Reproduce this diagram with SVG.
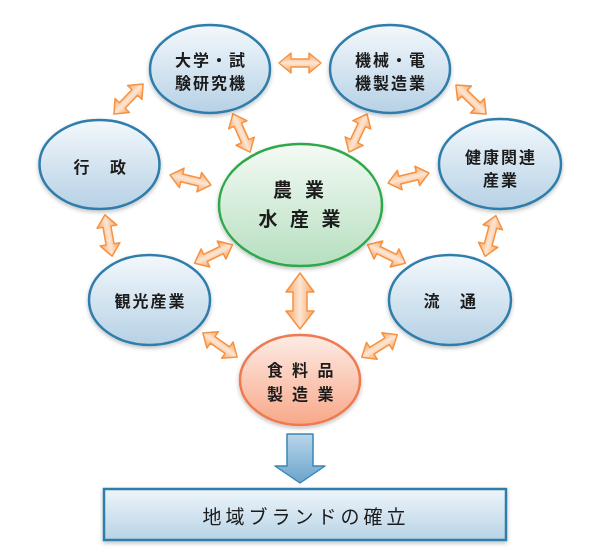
<svg xmlns="http://www.w3.org/2000/svg" xmlns:xlink="http://www.w3.org/1999/xlink" width="600" height="560" viewBox="0 0 600 560">
<defs>
<linearGradient id="gBlue" x1="0" y1="0" x2="0" y2="1">
<stop offset="0" stop-color="#f3f8fc"/>
<stop offset="1" stop-color="#b6d1e5"/>
</linearGradient>
<linearGradient id="gGreen" x1="0" y1="0" x2="0" y2="1">
<stop offset="0" stop-color="#f4faf4"/>
<stop offset="1" stop-color="#b6dfc0"/>
</linearGradient>
<linearGradient id="gRed" x1="0" y1="0" x2="0" y2="1">
<stop offset="0" stop-color="#fdece6"/>
<stop offset="1" stop-color="#f8a888"/>
</linearGradient>
<linearGradient id="gOrange" x1="0" y1="0" x2="0" y2="1">
<stop offset="0" stop-color="#f8a464"/>
<stop offset="0.5" stop-color="#fde6d4"/>
<stop offset="1" stop-color="#f8a464"/>
</linearGradient>
<linearGradient id="gOrangeV" x1="0" y1="0" x2="1" y2="0">
<stop offset="0" stop-color="#f8a464"/>
<stop offset="0.5" stop-color="#fde6d4"/>
<stop offset="1" stop-color="#f8a464"/>
</linearGradient>
<linearGradient id="gDown" x1="0" y1="0" x2="0" y2="1">
<stop offset="0" stop-color="#b9d6ea"/>
<stop offset="1" stop-color="#6aa4cc"/>
</linearGradient>
<linearGradient id="gBox" x1="0" y1="0" x2="0" y2="1">
<stop offset="0" stop-color="#eef5fa"/>
<stop offset="1" stop-color="#b8d3e6"/>
</linearGradient>
<filter id="sh" x="-20%" y="-20%" width="140%" height="150%">
<feGaussianBlur in="SourceAlpha" stdDeviation="2"/>
<feOffset dx="0" dy="2" result="b"/>
<feComponentTransfer><feFuncA type="linear" slope="0.25"/></feComponentTransfer>
<feMerge><feMergeNode/><feMergeNode in="SourceGraphic"/></feMerge>
</filter>
<path id="dbl" d="M-21,0 L-9,-10 L-9,-4 L9,-4 L9,-10 L21,0 L9,10 L9,4 L-9,4 L-9,10 Z"/>
</defs>
<style>
.blue{fill:url(#gBlue);stroke:#2f7dab;stroke-width:2.5}
.green{fill:url(#gGreen);stroke:#2ea84b;stroke-width:2.5}
.red{fill:url(#gRed);stroke:#f07a50;stroke-width:2.5}
.arr{fill:url(#gOrange);stroke:#f69240;stroke-width:1.5;stroke-linejoin:round}
.t{font-family:"Noto Sans CJK JP","Noto Sans CJK SC",sans-serif;font-weight:bold;font-size:16px;fill:#1a1a1a;dominant-baseline:central}
.m{text-anchor:middle;letter-spacing:2px}
.big{font-size:19px}
</style>

<g id="connectors">
<use xlink:href="#dbl" class="arr" transform="translate(300,63)"/>
<use xlink:href="#dbl" class="arr" transform="translate(241.5,133) rotate(65.9)"/>
<use xlink:href="#dbl" class="arr" transform="translate(358,133) rotate(115.3)"/>
<use xlink:href="#dbl" class="arr" transform="translate(128.5,99) rotate(-46)"/>
<use xlink:href="#dbl" class="arr" transform="translate(190.5,180) rotate(13.7)"/>
<use xlink:href="#dbl" class="arr" transform="translate(108.5,235.5) rotate(80)"/>
<use xlink:href="#dbl" class="arr" transform="translate(471,99.5) rotate(44)"/>
<use xlink:href="#dbl" class="arr" transform="translate(408.5,178) rotate(-13.7)"/>
<use xlink:href="#dbl" class="arr" transform="translate(490.5,236) rotate(105)"/>
<use xlink:href="#dbl" class="arr" transform="translate(213.5,254) rotate(-25.9)"/>
<use xlink:href="#dbl" class="arr" transform="translate(386.5,254) rotate(25.9)"/>
<use xlink:href="#dbl" class="arr" transform="translate(220,345) rotate(35.2)"/>
<use xlink:href="#dbl" class="arr" transform="translate(379.5,346) rotate(-32.2)"/>
<path d="M300,273 L314,292 L307,292 L307,311 L314,311 L300,329 L286,311 L293,311 L293,292 L286,292 Z" fill="url(#gOrangeV)" stroke="#f69240" stroke-width="1.5" stroke-linejoin="round"/>
<path d="M287,434 L313,434 L313,466 L325,466 L300,483 L275,466 L287,466 Z" fill="url(#gDown)" stroke="#3a86b4" stroke-width="1.5" stroke-linejoin="round"/>
</g>

<g id="univ" filter="url(#sh)">
<ellipse class="blue" cx="210" cy="69" rx="60" ry="44"/>
<text class="t m" x="211" y="59">大学・試</text>
<text class="t m" x="211" y="82">験研究機</text>
</g>
<g id="machine" filter="url(#sh)">
<ellipse class="blue" cx="390" cy="69" rx="60" ry="44"/>
<text class="t m" x="391" y="59">機械・電</text>
<text class="t m" x="391" y="82">機製造業</text>
</g>
<g id="gyosei" filter="url(#sh)">
<ellipse class="blue" cx="99.5" cy="164.5" rx="60" ry="44.5"/>
<text class="t" x="73.5 92 110" y="166">行 政</text>
</g>
<g id="health" filter="url(#sh)">
<ellipse class="blue" cx="500" cy="164" rx="61" ry="45"/>
<text class="t m" x="501" y="156">健康関連</text>
<text class="t m" x="501" y="179">産業</text>
</g>
<g id="center" filter="url(#sh)">
<ellipse class="green" cx="300.5" cy="205" rx="81.5" ry="61"/>
<text class="t big" x="273 296 305" y="188">農 業</text>
<text class="t big" x="258.5 280 290 312 321.5" y="217">水 産 業</text>
</g>
<g id="kanko" filter="url(#sh)">
<ellipse class="blue" cx="149.5" cy="300" rx="60.5" ry="45"/>
<text class="t m" x="150.5" y="300">観光産業</text>
</g>
<g id="ryutsu" filter="url(#sh)">
<ellipse class="blue" cx="450" cy="300" rx="61" ry="45"/>
<text class="t" x="423.5 442 460" y="300">流 通</text>
</g>
<g id="food" filter="url(#sh)">
<ellipse class="red" cx="300" cy="380" rx="60" ry="45"/>
<text class="t" x="267 284 292 309 317.5" y="369">食 料 品</text>
<text class="t" x="267 284 292 309 317.5" y="393">製 造 業</text>
</g>
<g id="brand" filter="url(#sh)">
<rect x="104" y="489" width="402" height="51" fill="url(#gBox)" stroke="#2f7dab" stroke-width="2.5"/>
<text class="t" x="306" y="515" style="font-size:19px;font-weight:normal;text-anchor:middle;letter-spacing:4px">地域ブランドの確立</text>
</g>
</svg>
